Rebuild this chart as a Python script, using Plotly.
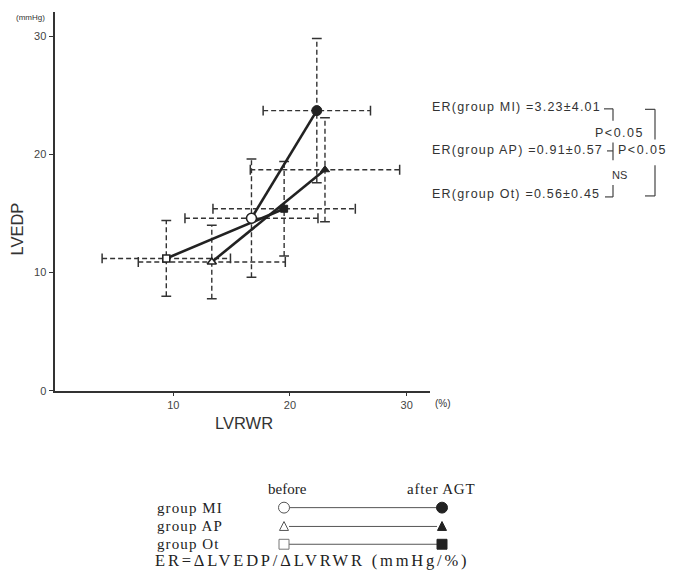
import plotly.graph_objects as go

# ---------------- data ----------------
groups = ["group MI", "group AP", "group Ot"]
lvrwr_before = [16.7, 13.3, 9.4]
lvrwr_before_sd = [5.7, 6.3, 5.5]
lvedp_before = [14.6, 10.9, 11.2]
lvedp_before_sd = [5.0, 3.1, 3.2]
lvrwr_after = [22.3, 23.0, 19.5]
lvrwr_after_sd = [4.6, 6.4, 6.1]
lvedp_after = [23.7, 18.7, 15.4]
lvedp_after_sd = [6.1, 4.4, 4.0]

x_ticks = [10, 20, 30]
y_ticks = [0, 10, 20, 30]

er_labels = ["ER(group MI) =3.23±4.01", "ER(group AP) =0.91±0.57", "ER(group Ot) =0.56±0.45"]

# ---------------- geometry helpers ----------------
W, H = 677, 574
PL, PR, PT, PB = 54.5, 430.0, 12.6, 395.0   # plot area pixels


def px(xp):
    return xp / W


def py(yp):
    return 1 - yp / H


sans = "Liberation Sans Narrow, Liberation Sans, Arial, sans-serif"
sans2 = "Liberation Sans, Arial, sans-serif"
serif = "Liberation Serif, Times New Roman, serif"
ink = "#222222"

fig = go.Figure()

# dashed error bars
pts_x = lvrwr_before + lvrwr_after
pts_y = lvedp_before + lvedp_after
ex = lvrwr_before_sd + lvrwr_after_sd
ey = lvedp_before_sd + lvedp_after_sd

hx, hy, vx, vy = [], [], [], []
capx_h, capy_h, capx_v, capy_v = [], [], [], []
for x, y, dx, dy in zip(pts_x, pts_y, ex, ey):
    hx += [x - dx, x + dx, None]
    hy += [y, y, None]
    vx += [x, x, None]
    vy += [y - dy, y + dy, None]
    capx_h += [x - dx, x + dx]
    capy_h += [y, y]
    capx_v += [x, x]
    capy_v += [y - dy, y + dy]

dash_line = dict(color="#333333", width=1.4, dash="5px,3px")
fig.add_trace(go.Scatter(x=hx, y=hy, mode="lines", line=dash_line, hoverinfo="skip", showlegend=False))
fig.add_trace(go.Scatter(x=vx, y=vy, mode="lines", line=dash_line, hoverinfo="skip", showlegend=False))
fig.add_trace(go.Scatter(x=capx_h, y=capy_h, mode="markers", hoverinfo="skip", showlegend=False,
                         marker=dict(symbol="line-ns", size=7, line=dict(color="#333333", width=1.5))))
fig.add_trace(go.Scatter(x=capx_v, y=capy_v, mode="markers", hoverinfo="skip", showlegend=False,
                         marker=dict(symbol="line-ew", size=7, line=dict(color="#333333", width=1.5))))

# before -> after lines
for i, g in enumerate(groups):
    fig.add_trace(go.Scatter(x=[lvrwr_before[i], lvrwr_after[i]], y=[lvedp_before[i], lvedp_after[i]],
                             mode="lines", line=dict(color=ink, width=2.6), name=g, showlegend=False))

sym_open = ["circle", "triangle-up", "square"]
sizes = [10, 8, 7]
for i, g in enumerate(groups):
    fig.add_trace(go.Scatter(x=[lvrwr_before[i]], y=[lvedp_before[i]], mode="markers", showlegend=False,
                             marker=dict(symbol=sym_open[i], size=sizes[i], color="white",
                                         line=dict(color=ink, width=1.6))))
    fig.add_trace(go.Scatter(x=[lvrwr_after[i]], y=[lvedp_after[i]], mode="markers", showlegend=False,
                             marker=dict(symbol=sym_open[i], size=sizes[i], color=ink,
                                         line=dict(color=ink, width=1))))

shapes = []
ann = []


def note(xp, yp, text, size, family=sans, xanchor="center", color="#333", angle=0, spacing=0):
    if spacing:
        text = "<span style='letter-spacing:{}px'>{}</span>".format(spacing, text)
    ann.append(dict(x=px(xp), y=py(yp), xref="paper", yref="paper", text=text, showarrow=False,
                    xanchor=xanchor, yanchor="middle", textangle=angle,
                    font=dict(family=family, size=size, color=color)))


# axis titles / units
note(17, 232, "LVEDP", 16.5, angle=-90)
note(244, 427, "LVRWR", 16.5)
note(31, 18, "(mmHg)", 8)
note(433, 408, "(%)", 10, xanchor="left")

# ER statistics text
er_y = [108, 152, 196]
for t, yy in zip(er_labels, er_y):
    note(430, yy, t, 12.5, family=sans2, xanchor="left", spacing=1.2)
note(619, 134, "P<0.05", 12.5, family=sans2, spacing=1.5)
note(616, 152, "P<0.05", 12.5, family=sans2, xanchor="left", spacing=1.5)
note(619, 177, "NS", 11, family=sans2)

bl = dict(color="#444", width=1.2)


def seg(x0, y0, x1, y1):
    shapes.append(dict(type="line", xref="paper", yref="paper", x0=px(x0), y0=py(y0),
                       x1=px(x1), y1=py(y1), line=bl))


# inner bracket
seg(604, 110, 613, 110)
seg(613, 110, 613, 122)
seg(613, 144, 613, 162)
seg(607, 152.5, 613, 152.5)
seg(613, 187, 613, 199)
seg(605, 199, 613, 199)
# outer bracket
seg(645, 110.5, 655, 110.5)
seg(655, 110.5, 655, 141)
seg(655, 167, 655, 198)
seg(645, 198, 655, 198)

# bottom legend
note(287, 494, "before", 15, family=serif, color="#222")
note(441, 494, "after AGT", 15, family=serif, color="#222", spacing=0.8)
leg_y = [513, 532, 550]
for g, yy in zip(groups, leg_y):
    note(155, yy, g, 15, family=serif, xanchor="left", color="#222", spacing=1.1)
    shapes.append(dict(type="line", xref="paper", yref="paper", x0=px(289), y0=py(yy),
                       x1=px(437), y1=py(yy), line=dict(color="#555", width=1)))
note(153, 566, "ER=ΔLVEDP/ΔLVRWR (mmHg/%)", 16.5, family=serif, xanchor="left", color="#222",
     spacing=2.8)

# legend symbols
r = 5.5
shapes.append(dict(type="circle", xref="paper", yref="paper", x0=px(284 - r), x1=px(284 + r),
                   y0=py(513 - r), y1=py(513 + r), line=dict(color="#555", width=1), fillcolor="white"))
shapes.append(dict(type="circle", xref="paper", yref="paper", x0=px(442 - r), x1=px(442 + r),
                   y0=py(513 - r), y1=py(513 + r), line=dict(color="#222", width=1), fillcolor="#222"))


def tri(cx, cy, s, fill):
    path = "M {:.5f},{:.5f} L {:.5f},{:.5f} L {:.5f},{:.5f} Z".format(
        px(cx), py(cy - s * 0.55), px(cx - s / 2), py(cy + s * 0.45), px(cx + s / 2), py(cy + s * 0.45))
    shapes.append(dict(type="path", xref="paper", yref="paper", path=path,
                       line=dict(color="#555" if fill == "white" else "#222", width=1), fillcolor=fill))


tri(284, 532, 9, "white")
tri(442, 532, 9, "#222")
q = 5
shapes.append(dict(type="rect", xref="paper", yref="paper", x0=px(284 - q), x1=px(284 + q),
                   y0=py(550 - q), y1=py(550 + q), line=dict(color="#777", width=1), fillcolor="white"))
shapes.append(dict(type="rect", xref="paper", yref="paper", x0=px(442 - q), x1=px(442 + q),
                   y0=py(550 - q), y1=py(550 + q), line=dict(color="#222", width=1), fillcolor="#222"))

fig.update_layout(
    width=W, height=H,
    margin=dict(l=0, r=0, t=0, b=0),
    paper_bgcolor="white", plot_bgcolor="white",
    showlegend=False,
    xaxis=dict(domain=[px(PL), px(PR)], range=[-0.18, 32], tickvals=x_ticks,
               showgrid=False, zeroline=False, showline=True, linecolor="#333", linewidth=2,
               ticks="outside", ticklen=3, tickcolor="#333",
               tickfont=dict(family=sans, size=11, color="#444")),
    yaxis=dict(domain=[py(PB), py(PT)], range=[0, 32], tickvals=y_ticks,
               showgrid=False, zeroline=False, showline=True, linecolor="#333", linewidth=2,
               ticks="outside", ticklen=4, tickcolor="#333",
               tickfont=dict(family=sans, size=11, color="#444")),
    shapes=shapes,
    annotations=ann,
)

fig.write_html("out.html")
